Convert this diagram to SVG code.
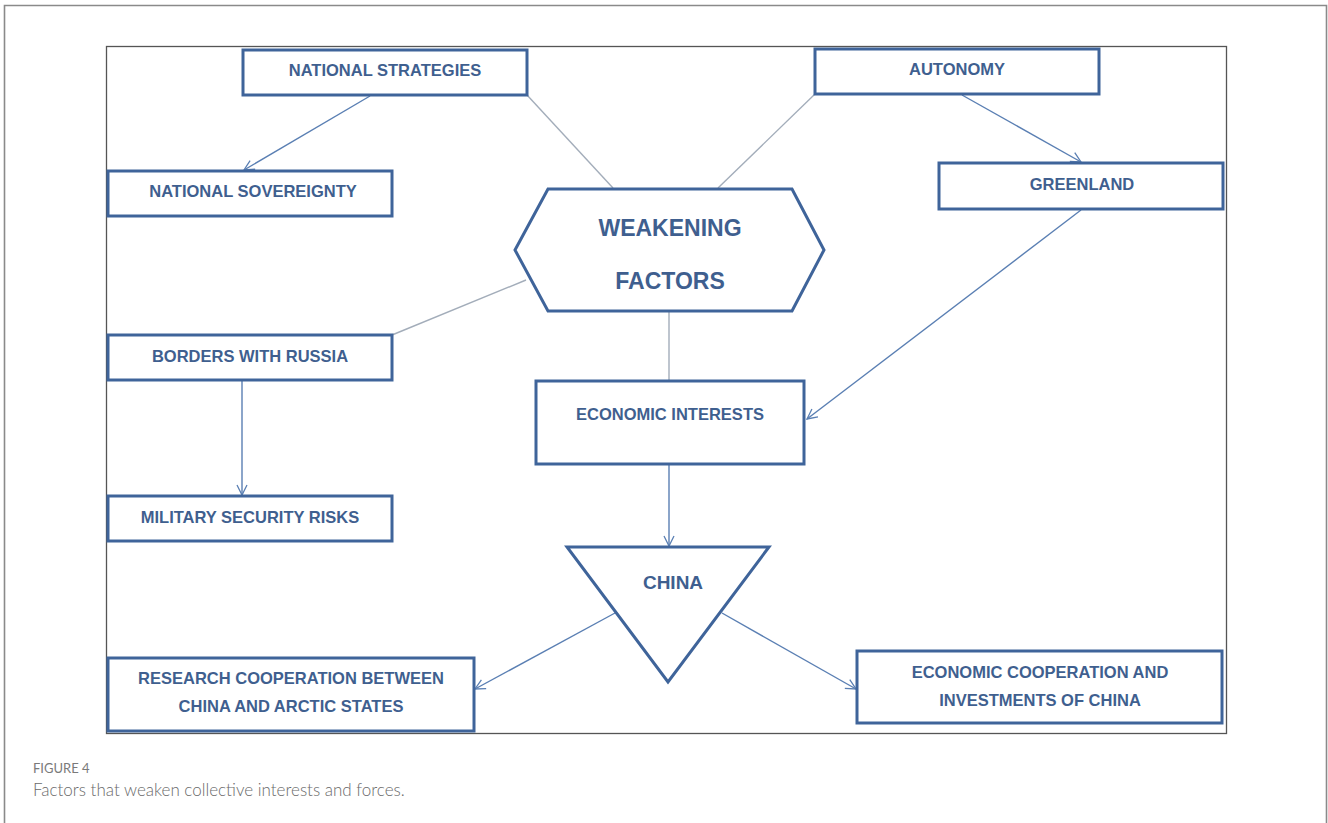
<svg xmlns="http://www.w3.org/2000/svg" width="1328" height="823" viewBox="0 0 1328 823">
  <defs>
    <marker id="arrow" markerWidth="14" markerHeight="14" refX="12" refY="7" orient="auto" markerUnits="userSpaceOnUse">
      <path d="M2,2 L12,7 L2,12" fill="none" stroke="#5a7fb3" stroke-width="1.3"/>
    </marker>
    <style>
      .box { fill: #ffffff; stroke: #3f649a; stroke-width: 3; }
      .lbl { font-family: "Liberation Sans", Arial, sans-serif; font-weight: bold; font-size: 16.5px; fill: #3f5f8f; text-anchor: middle; }
      .big { font-size: 23px; }
      .arr { stroke: #5a7fb3; stroke-width: 1.4; fill: none; marker-end: url(#arrow); }
      .link { stroke: #a3adba; stroke-width: 1.4; fill: none; }
      .cap1 { font-family: "Lato", "Liberation Sans", sans-serif; font-size: 13px; fill: #7a7a7a; }
      .cap2 { font-family: "Lato", "Liberation Sans", sans-serif; font-size: 17px; fill: #6a6a6a; font-weight: 300; }
    </style>
  </defs>

  <!-- card and picture frame -->
  <rect x="0" y="0" width="1328" height="823" fill="#ffffff"/>
  <path d="M4.5,830 L4.5,5.5 L1326.5,5.5 L1326.5,830" fill="none" stroke="#8a8a8a" stroke-width="1.6"/>
  <rect x="106.5" y="46.5" width="1120" height="687" fill="#ffffff" stroke="#555555" stroke-width="1.3"/>

  <!-- connectors -->
  <g id="connectors">
    <line class="arr" x1="370" y1="96" x2="244" y2="170"/>
    <line class="link" x1="527" y1="95" x2="613" y2="188"/>
    <line class="link" x1="815" y1="94" x2="718" y2="188"/>
    <line class="arr" x1="962" y1="95" x2="1081" y2="162"/>
    <line class="arr" x1="1081" y1="210" x2="807" y2="419"/>
    <line class="link" x1="526" y1="280" x2="392" y2="335"/>
    <line class="link" x1="669" y1="312" x2="669" y2="380"/>
    <line class="arr" x1="242" y1="381" x2="242" y2="495"/>
    <line class="arr" x1="669" y1="465" x2="669" y2="546"/>
    <line class="arr" x1="615" y1="613" x2="475" y2="689"/>
    <line class="arr" x1="722" y1="613" x2="856" y2="689"/>
  </g>

  <g id="national-strategies">
    <rect class="box" x="243" y="50" width="284" height="45"/>
    <text class="lbl" x="385" y="76">NATIONAL STRATEGIES</text>
  </g>

  <g id="national-sovereignty">
    <rect class="box" x="108" y="171" width="284" height="45"/>
    <text class="lbl" x="253" y="197">NATIONAL SOVEREIGNTY</text>
  </g>

  <g id="autonomy">
    <rect class="box" x="815" y="49" width="284" height="45"/>
    <text class="lbl" x="957" y="75">AUTONOMY</text>
  </g>

  <g id="greenland">
    <rect class="box" x="939" y="163" width="284" height="46"/>
    <text class="lbl" x="1082" y="190">GREENLAND</text>
  </g>

  <g id="weakening-factors">
    <polygon class="box" points="515,250 548,189 792,189 824,250 792,311 548,311"/>
    <text class="lbl big" x="670" y="236">WEAKENING</text>
    <text class="lbl big" x="670" y="289">FACTORS</text>
  </g>

  <g id="borders-with-russia">
    <rect class="box" x="108" y="335" width="284" height="45"/>
    <text class="lbl" x="250" y="362">BORDERS WITH RUSSIA</text>
  </g>

  <g id="military-security-risks">
    <rect class="box" x="108" y="496" width="284" height="45"/>
    <text class="lbl" x="250" y="523">MILITARY SECURITY RISKS</text>
  </g>

  <g id="economic-interests">
    <rect class="box" x="536" y="381" width="268" height="83"/>
    <text class="lbl" x="670" y="420">ECONOMIC INTERESTS</text>
  </g>

  <g id="china">
    <polygon class="box" points="567,547 769,547 668,682"/>
    <text class="lbl big" x="673" y="589" style="font-size:19px">CHINA</text>
  </g>

  <g id="research-cooperation">
    <rect class="box" x="108" y="658" width="366" height="73"/>
    <text class="lbl" x="291" y="684">RESEARCH COOPERATION BETWEEN</text>
    <text class="lbl" x="291" y="712">CHINA AND ARCTIC STATES</text>
  </g>

  <g id="economic-cooperation">
    <rect class="box" x="857" y="651" width="365" height="72"/>
    <text class="lbl" x="1040" y="678">ECONOMIC COOPERATION AND</text>
    <text class="lbl" x="1040" y="706">INVESTMENTS OF CHINA</text>
  </g>

  <!-- caption -->
  <text class="cap1" x="33" y="773">FIGURE 4</text>
  <text class="cap2" x="33" y="796">Factors that weaken collective interests and forces.</text>
</svg>
